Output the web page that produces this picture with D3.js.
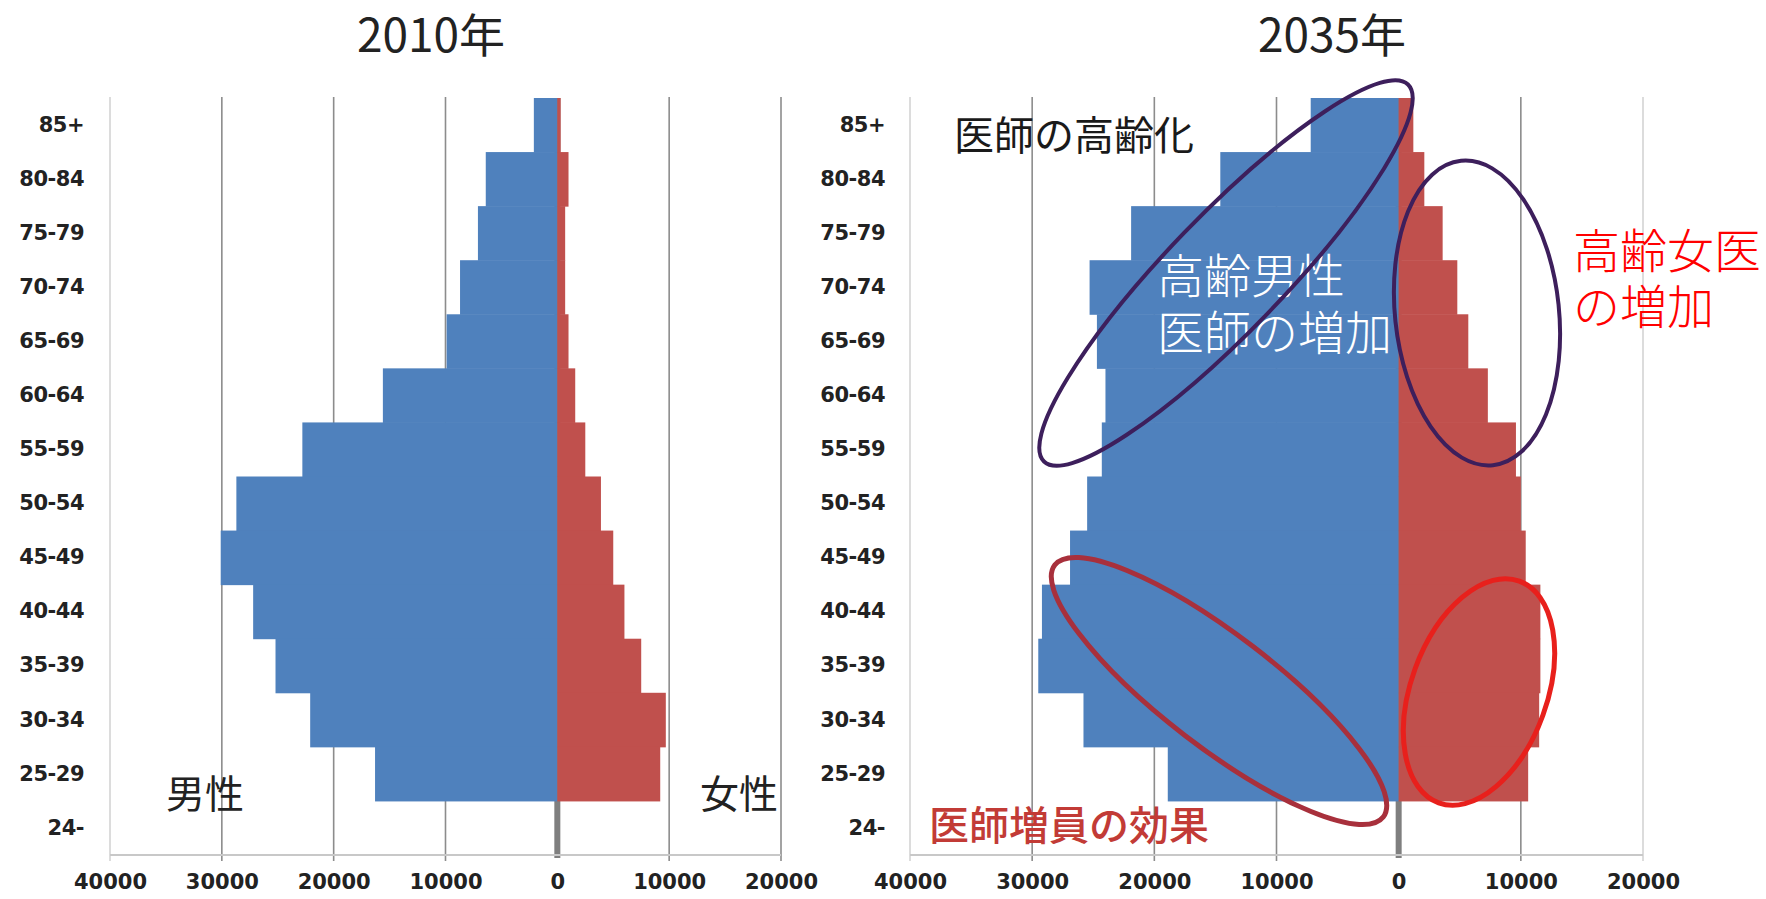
<!DOCTYPE html>
<html>
<head>
<meta charset="utf-8">
<script src="https://cdn.jsdelivr.net/npm/d3@7"></script>
<style>
	body { margin: 0; background: #fff; }
	svg { display: block; }
</style>
</head>
<body>
<svg id="chart" width="1766" height="899"></svg>
<script>

	// age groups, top to bottom
	var ages = ["85+", "80-84", "75-79", "70-74", "65-69", "60-64", "55-59", "50-54", "45-49", "40-44", "35-39", "30-34", "25-29", "24-"];

	var male2010   = [2100, 6400, 7100, 8700, 9900, 15600, 22800, 28700, 30100, 27200, 25200, 22100, 16300, 0];
	var female2010 = [300, 1000, 700, 700, 1000, 1600, 2500, 3900, 5000, 6000, 7500, 9700, 9200, 0];

	var male2035   = [7200, 14600, 21900, 25300, 24700, 24000, 24300, 25500, 26900, 29200, 29500, 25800, 18900, 0];
	var female2035 = [1200, 2100, 3600, 4800, 5700, 7300, 9600, 10000, 10400, 11600, 11600, 11500, 10600, 0];

	var xTicks = [-40000, -30000, -20000, -10000, 0, 10000, 20000];

	var blue = "#4f81bd";
	var red = "#c0504d";

	var svg = d3.select("#chart");

	var y = d3.scaleBand()
		.domain(ages)
		.range([98, 855])
		.padding(0);

	function drawPyramid(left, right, labelX, males, females, title, titleX, lightRight) {
		var x = d3.scaleLinear().domain([-40000, 20000]).range([left, right]);
		var g = svg.append("g");

		// grid lines
		g.selectAll(".grid")
			.data(xTicks.filter(function (d) { return d !== 0; }))
			.enter().append("line")
			.attr("x1", function (d) { return x(d); })
			.attr("x2", function (d) { return x(d); })
			.attr("y1", 97)
			.attr("y2", 861)
			.style("stroke", function (d) {
				if (d === -40000) return "#d4d4d4";
				if (d === 20000 && lightRight) return "#d4d4d4";
				return "#8c8c8c";
			})
			.style("stroke-width", 1.6);

		// zero line (only shows in the empty 24- row)
		g.append("line")
			.attr("x1", x(0)).attr("x2", x(0))
			.attr("y1", 98).attr("y2", 858)
			.style("stroke", "#7f7f7f")
			.style("stroke-width", 6);

		// bottom axis line
		g.append("line")
			.attr("x1", x(-40000)).attr("x2", x(20000))
			.attr("y1", 855).attr("y2", 855)
			.style("stroke", "#c8c8c8")
			.style("stroke-width", 2);

		g.selectAll(".male")
			.data(males)
			.enter().append("rect")
			.attr("x", function (d) { return x(-d); })
			.attr("y", function (d, i) { return y(ages[i]); })
			.attr("width", function (d) { return x(0) - x(-d); })
			.attr("height", y.bandwidth() + 0.5)
			.style("fill", blue);

		g.selectAll(".female")
			.data(females)
			.enter().append("rect")
			.attr("x", x(0))
			.attr("y", function (d, i) { return y(ages[i]); })
			.attr("width", function (d) { return x(d) - x(0); })
			.attr("height", y.bandwidth() + 0.5)
			.style("fill", red);

		// x axis labels
		var xAxis = g.append("g")
			.attr("transform", "translate(0,855)")
			.call(d3.axisBottom(x).tickValues(xTicks).tickSize(0).tickPadding(19)
				.tickFormat(function (d) { return Math.abs(d); }));
		xAxis.select(".domain").remove();
		xAxis.selectAll("text")
			.style("font-family", "'DejaVu Sans', sans-serif")
			.style("font-weight", "bold")
			.style("font-size", "21px")
			.style("fill", "#222");

		// y axis labels
		var yAxis = g.append("g")
			.attr("transform", "translate(" + labelX + ",0)")
			.call(d3.axisLeft(y).tickSize(0).tickPadding(0));
		yAxis.select(".domain").remove();
		yAxis.selectAll("text")
			.style("font-family", "'DejaVu Sans', sans-serif")
			.style("font-weight", "bold")
			.style("font-size", "21px")
			.style("letter-spacing", "-0.5px")
			.style("fill", "#222");

		g.append("text")
			.attr("x", titleX)
			.attr("y", 52)
			.attr("text-anchor", "middle")
			.style("font-family", "'Noto Sans CJK JP', sans-serif")
			.style("font-size", "46px")
			.style("fill", "#222")
			.text(title);
	}

	drawPyramid(110, 781, 84, male2010, female2010, "2010年", 431, false);
	drawPyramid(910, 1643, 885, male2035, female2035, "2035年", 1332, true);

	function label(txt, x, yy, size, color, weight) {
		svg.append("text")
			.attr("x", x)
			.attr("y", yy)
			.style("font-family", "'Noto Sans CJK JP', sans-serif")
			.style("font-size", size + "px")
			.style("font-weight", weight || 400)
			.style("fill", color)
			.text(txt);
	}

	label("男性", 166, 808, 39, "#222");
	label("女性", 700, 808, 39, "#222");
	label("医師の高齢化", 954, 150, 40, "#1a1a1a");
	label("高齢男性", 1157, 293, 47, "#fff", 300);
	label("医師の増加", 1157, 350, 47, "#fff", 300);
	label("高齢女医", 1573, 268, 47, "#ff0000", 300);
	label("の増加", 1573, 324, 47, "#ff0000", 300);
	label("医師増員の効果", 929, 840, 40, "#c23b36", 500);

	// annotation ellipses
	var ellipses = [
		{cx: 1226, cy: 273, rx: 262, ry: 58, rot: -46, color: "#3d1f5c", w: 4},
		{cx: 1477, cy: 313, rx: 82, ry: 153, rot: -6, color: "#3d1f5c", w: 4},
		{cx: 1219, cy: 691, rx: 207, ry: 56, rot: 37.5, color: "#a8303c", w: 5},
		{cx: 1479, cy: 692, rx: 68, ry: 118, rot: 20, color: "#e8201c", w: 5}
	];

	svg.selectAll(".ring")
		.data(ellipses)
		.enter().append("ellipse")
		.attr("transform", function (d) { return "translate(" + d.cx + "," + d.cy + ") rotate(" + d.rot + ")"; })
		.attr("rx", function (d) { return d.rx; })
		.attr("ry", function (d) { return d.ry; })
		.style("fill", "none")
		.style("stroke", function (d) { return d.color; })
		.style("stroke-width", function (d) { return d.w; });

</script>
</body>
</html>
